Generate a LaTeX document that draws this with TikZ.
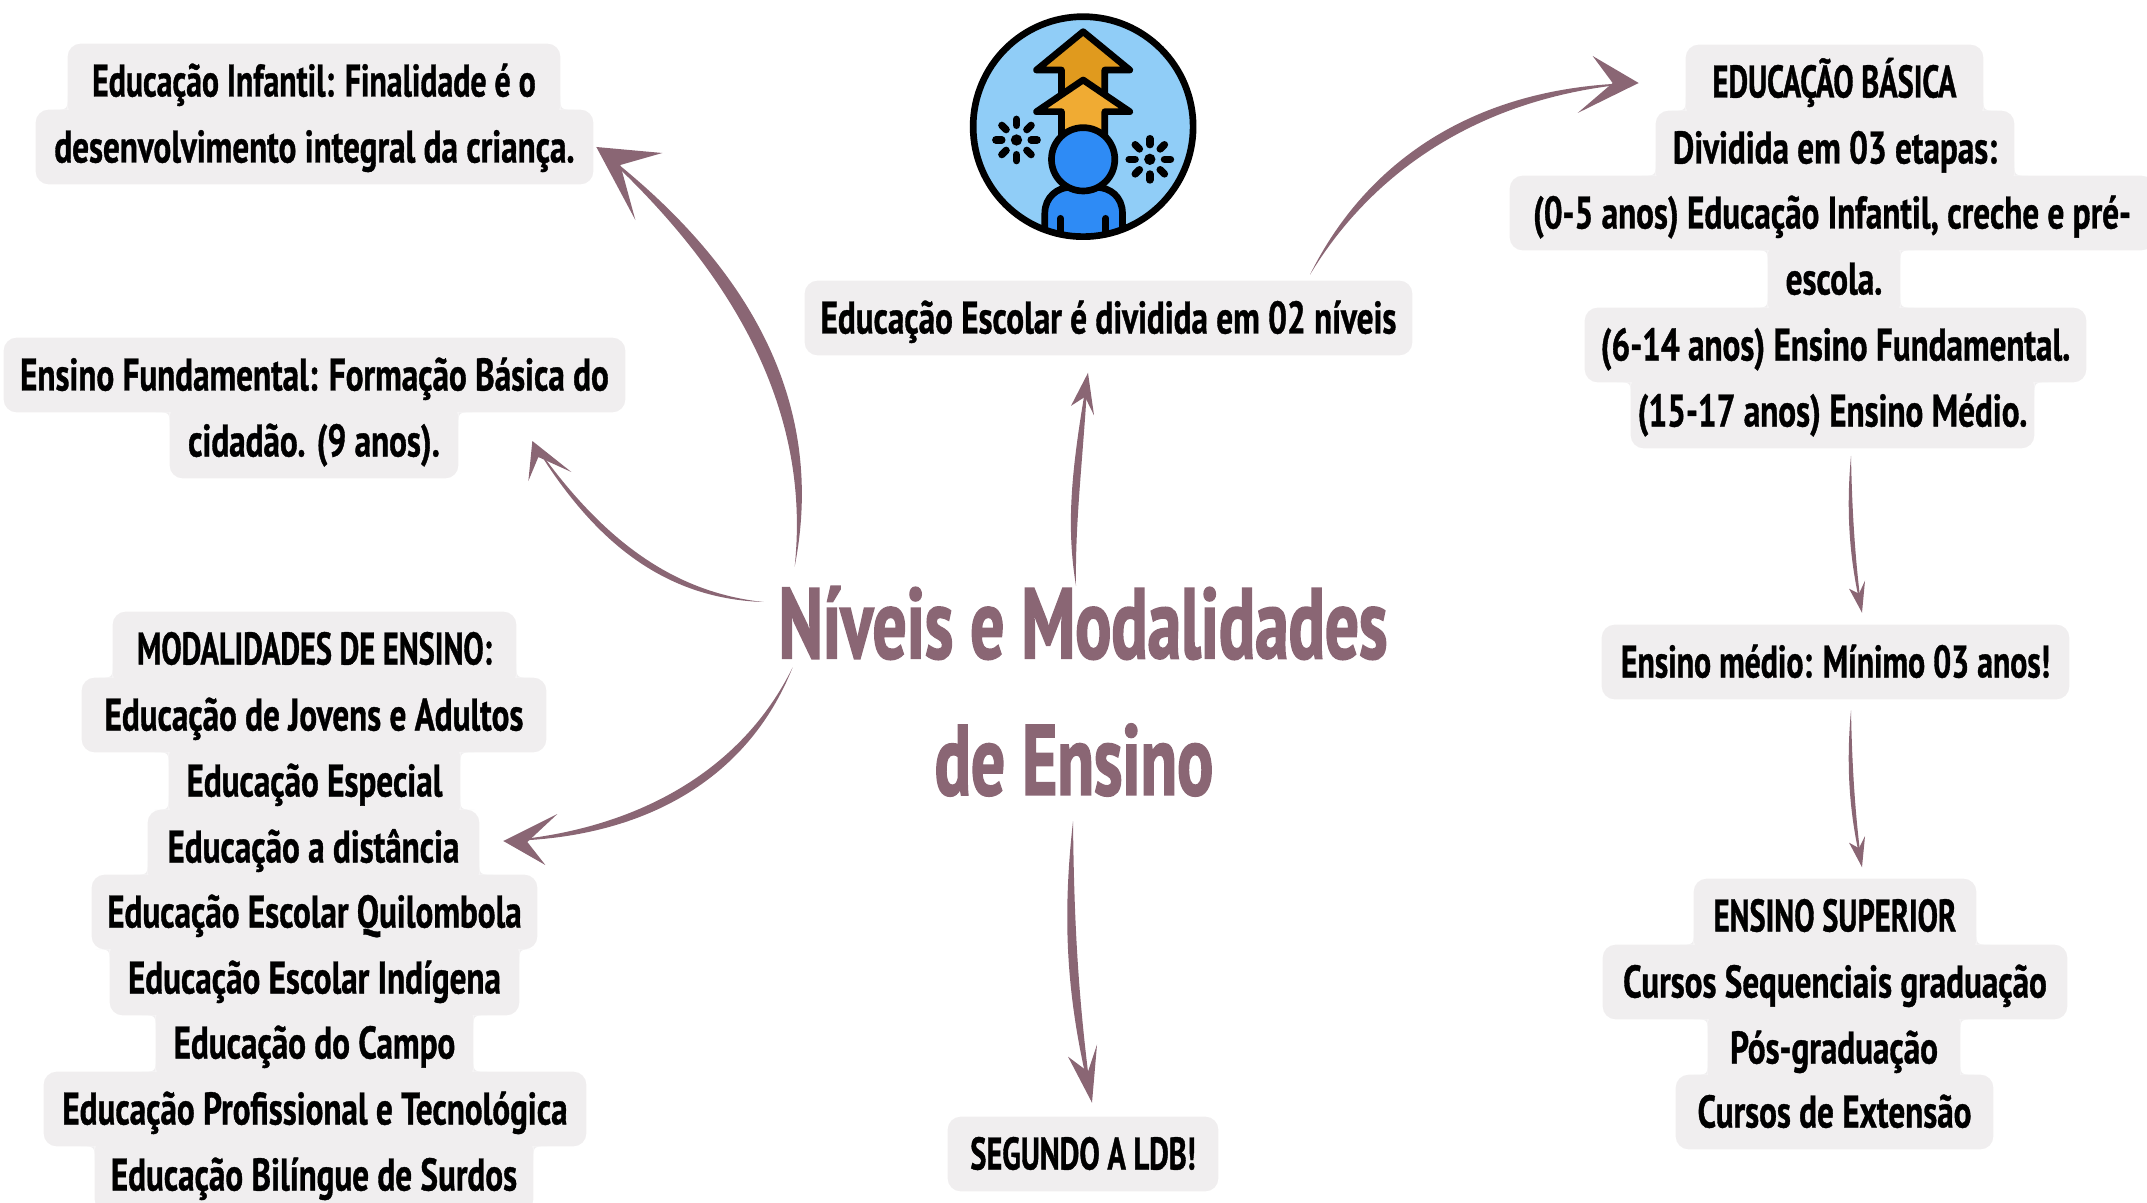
\documentclass[tikz,border=0pt]{standalone}
\usepackage{fontspec}
\setmainfont{PT Sans}[FakeStretch=0.725,BoldFeatures={FakeBold=0.8}]
\newfontfamily\titlefont{PT Sans}[FakeStretch=0.672,BoldFeatures={FakeBold=1.6}]
\newfontfamily\capsfont{PT Sans}[FakeStretch=0.665,BoldFeatures={FakeBold=0.8}]
\newfontfamily\narrowfont{PT Sans}[FakeStretch=0.695,BoldFeatures={FakeBold=0.8}]
\usetikzlibrary{calc}
\definecolor{boxc}{HTML}{F0EEEF}
\definecolor{mauve}{HTML}{8A6674}
\definecolor{skyc}{HTML}{90CDF7}
\definecolor{ora}{HTML}{E09A1E}
\definecolor{orb}{HTML}{F0AB33}
\definecolor{blu}{HTML}{2E8BF5}
\pgfdeclarelayer{bg}
\pgfsetlayers{bg,main}
\newdimen\jux \newdimen\juy \newdimen\jlx \newdimen\jly \newdimen\jd
\tikzset{
  lbl/.style={inner sep=0pt,text height=1.05cm,text depth=.43cm,minimum width=#1,text=black,font=\fontsize{26}{26}\selectfont\bfseries},
  titlelbl/.style={inner sep=0pt,minimum height=2cm,minimum width=#1,text=mauve,font=\fontsize{57}{57}\selectfont\titlefont\bfseries},
  conn/.style={fill=mauve,draw=none},
  ico/.style={draw=black,line width=3.8pt,line join=round,line cap=round},
  spoke/.style={draw=black,line width=4.2pt,line cap=round}
}
% name, x1, x2, yc, text
\newcommand{\lineBox}[5]{%
  \node[lbl={(#3-#2)*0.02cm}] (#1) at ({(#2+#3)/2},#4) {#5};
  \begin{pgfonlayer}{bg}
    \fill[boxc,rounded corners=.26cm] (#1.south west) rectangle (#1.north east);
  \end{pgfonlayer}}
% concave joint where two stacked rows of different width meet
\newcommand{\jointFill}[5]{%
  \fill[boxc] ({#1},{#2+(#4)*8pt}) .. controls (#1,#2) .. ({#1+(#3)*#5},#2) -- (#1,#2) -- cycle;}
\newcommand{\joinSide}[4]{%
  \pgfextractx{\jux}{\pgfpointanchor{#1}{south #3}}%
  \pgfextracty{\juy}{\pgfpointanchor{#1}{south #3}}%
  \pgfextractx{\jlx}{\pgfpointanchor{#2}{north #3}}%
  \pgfextracty{\jly}{\pgfpointanchor{#2}{north #3}}%
  \jd=\dimexpr(\jlx-\jux)*#4\relax
  \ifdim\jd>0pt
    \ifdim\jd>8pt \jd=8pt\fi
    \jointFill{\the\jux}{\the\jly}{#4}{1}{\the\jd}
  \else
    \jd=-\jd
    \ifdim\jd>8pt \jd=8pt\fi
    \jointFill{\the\jlx}{\the\juy}{#4}{-1}{\the\jd}
  \fi}
\newcommand{\joinRows}[2]{%
  \begin{pgfonlayer}{bg}
    \joinSide{#1}{#2}{east}{1}
    \joinSide{#1}{#2}{west}{-1}
  \end{pgfonlayer}}
% start, tip, neck(rel tip), barb1(rel tip), barb2(rel tip), c1, c2, d
\newcommand{\connector}[8]{%
  \coordinate (nk) at ($(#2)+(#3)$);
  \fill[conn] (#1) .. controls ($(#6)+(#8)$) and ($(#7)+(#8)$) .. (#2)
     .. controls ($(#7)-(#8)$) and ($(#6)-(#8)$) .. (#1) -- cycle;
  \fill[conn] (#2) -- ($(#2)+(#4)$) -- (nk) -- ($(#2)+(#5)$) -- cycle;}
\newcommand{\burst}[2]{%
  \foreach \a in {0,45,...,315}{\draw[spoke] ($(#1,#2)+(\a:44)$) -- ($(#1,#2)+(\a:62)$);}
  \fill[black] (#1,#2) circle (17);}
\begin{document}
\begin{tikzpicture}[x=0.02cm,y=-0.02cm]
\useasboundingbox (0,0) rectangle (2147,1203);
% left column
\lineBox{eia}{68}{560}{81}{\narrowfont Educação Infantil: Finalidade é o}
\lineBox{eib}{36}{593}{147}{desenvolvimento integral da criança.}
\joinRows{eia}{eib}
\lineBox{efa}{4}{625}{375}{Ensino Fundamental: Formação Básica do}
\lineBox{efb}{170}{458}{441}{cidadão. (9 anos).}
\joinRows{efa}{efb}
\lineBox{ma}{113}{516}{649}{\capsfont MODALIDADES DE ENSINO:}
\lineBox{mb}{82}{546}{715}{Educação de Jovens e Adultos}
\lineBox{mc}{169}{460}{781}{Educação Especial}
\lineBox{md}{148}{479}{847}{Educação a distância}
\lineBox{me}{92}{537}{912}{Educação Escolar Quilombola}
\lineBox{mf}{110}{519}{978}{Educação Escolar Indígena}
\lineBox{mg}{156}{473}{1043}{Educação do Campo}
\lineBox{mh}{44}{586}{1109}{Educação Profissional e Tecnológica}
\lineBox{mi}{95}{533}{1175}{Educação Bilíngue de Surdos}
\joinRows{ma}{mb}\joinRows{mb}{mc}\joinRows{mc}{md}\joinRows{md}{me}
\joinRows{me}{mf}\joinRows{mf}{mg}\joinRows{mg}{mh}\joinRows{mh}{mi}
% centre
\lineBox{ee}{805}{1412}{318}{Educação Escolar é dividida em 02 níveis}
\lineBox{ldb}{948}{1218}{1154}{\capsfont SEGUNDO A LDB!}
\node[titlelbl={612*0.02cm}] (tia) at (1083,623) {Níveis e Modalidades};
\node[titlelbl={285*0.02cm}] (tib) at (1074,760) {de Ensino};
% right column
\lineBox{ba}{1686}{1983}{82}{\capsfont EDUCAÇÃO BÁSICA}
\lineBox{bb}{1656}{2014}{148}{Dividida em 03 etapas:}
\lineBox{bc}{1510}{2154}{213}{(0-5 anos) Educação Infantil, creche e pré-}
\lineBox{bd}{1768}{1900}{279}{escola.}
\lineBox{be}{1585}{2086}{345}{(6-14 anos) Ensino Fundamental.}
\lineBox{bf}{1631}{2034}{411}{(15-17 anos) Ensino Médio.}
\joinRows{ba}{bb}\joinRows{bb}{bc}\joinRows{bc}{bd}\joinRows{bd}{be}\joinRows{be}{bf}
\lineBox{med}{1602}{2069}{662}{\narrowfont Ensino médio: Mínimo 03 anos!}
\lineBox{sa}{1694}{1976}{916}{\capsfont ENSINO SUPERIOR}
\lineBox{sb}{1603}{2067}{982}{Cursos Sequenciais graduação}
\lineBox{sc}{1708}{1960}{1048}{Pós-graduação}
\lineBox{sd}{1676}{1993}{1112}{Cursos de Extensão}
\joinRows{sa}{sb}\joinRows{sb}{sc}\joinRows{sc}{sd}
% connector ends
\coordinate (s1) at ([shift={(18,-6)}]tia.north west);
\coordinate (t1) at ([shift={(3,0)}]eib.east);
\coordinate (s2) at ([shift={(-13,-21)}]tia.west);
\coordinate (t2) at ([shift={(74,0)}]efb.east);
\coordinate (s3) at ([shift={(16,-6)}]tia.south west);
\coordinate (t3) at ([shift={(24,-6)}]md.east);
\coordinate (s4) at ([shift={(-7,13)}]tia.north);
\coordinate (t4) at ([shift={(-20.5,17.5)}]ee.south);
\coordinate (s5) at ([shift={(201.5,-6)}]ee.north);
\coordinate (t5) at ([shift={(-47,1)}]ba.west);
\coordinate (s6) at ([shift={(-1,11)}]tib.south);
\coordinate (t6) at ([shift={(9,-14)}]ldb.north);
\coordinate (s7) at ([shift={(18.5,7.5)}]bf.south);
\coordinate (t7) at ([shift={(26.5,-12)}]med.north);
\coordinate (s8) at ([shift={(15.5,11)}]med.south);
\coordinate (t8) at ([shift={(27,-11.5)}]sa.north);
% connectors
\connector{s1}{t1}{24,18}{66,6}{39,73}{820,400}{735,262}{8,-3.5}
\connector{s2}{t2}{6,16}{39,31}{-4,40}{660,595}{590,530}{2.2,-3.6}
\connector{s3}{t3}{24,1}{54,-27}{42,24}{745,775}{640,835}{3,4.6}
\connector{s4}{t4}{-3,24}{-17,33}{6,42.5}{1070,520}{1078,460}{5,0}
\connector{s5}{t5}{-26,0}{-46,-27}{-61,30}{1370,165}{1480,90}{3.2,5}
\connector{s6}{t6}{-4,-31}{-24,-46}{5,-58}{1068,920}{1072,1000}{6,0}
\connector{s7}{t7}{-3,-19}{-13,-24}{3,-32}{1849,510}{1852,560}{3,0}
\connector{s8}{t8}{-3,-19}{-13,-24.5}{3,-31}{1849,765}{1852,815}{3,0}
% icon
\begin{scope}[xshift=18.6cm,x=0.0066667cm,y=-0.0066667cm]
  \fill[skyc] (460,380) circle (330);
  \begin{scope}
    \clip (460,380) circle (330);
    \draw[ico,fill=ora] (395,300) -- (395,210) -- (320,210) -- (460,95) -- (600,210) -- (525,210) -- (525,300) -- cycle;
    \draw[ico,fill=orb] (395,420) -- (395,335) -- (320,335) -- (460,240) -- (600,335) -- (525,335) -- (525,420) -- cycle;
    \draw[ico,fill=blu] (345,740) -- (345,640) .. controls (345,590) and (385,562) .. (420,562) -- (500,562) .. controls (540,562) and (578,590) .. (578,640) -- (578,740) -- cycle;
    \draw[ico] (392,655) -- (392,720);
    \draw[ico] (528,655) -- (528,720);
    \draw[ico,fill=blu] (460,478) circle (95);
  \end{scope}
  \burst{260}{420}
  \burst{660}{478}
  \draw[ico] (460,380) circle (330);
\end{scope}
\end{tikzpicture}
\end{document}
